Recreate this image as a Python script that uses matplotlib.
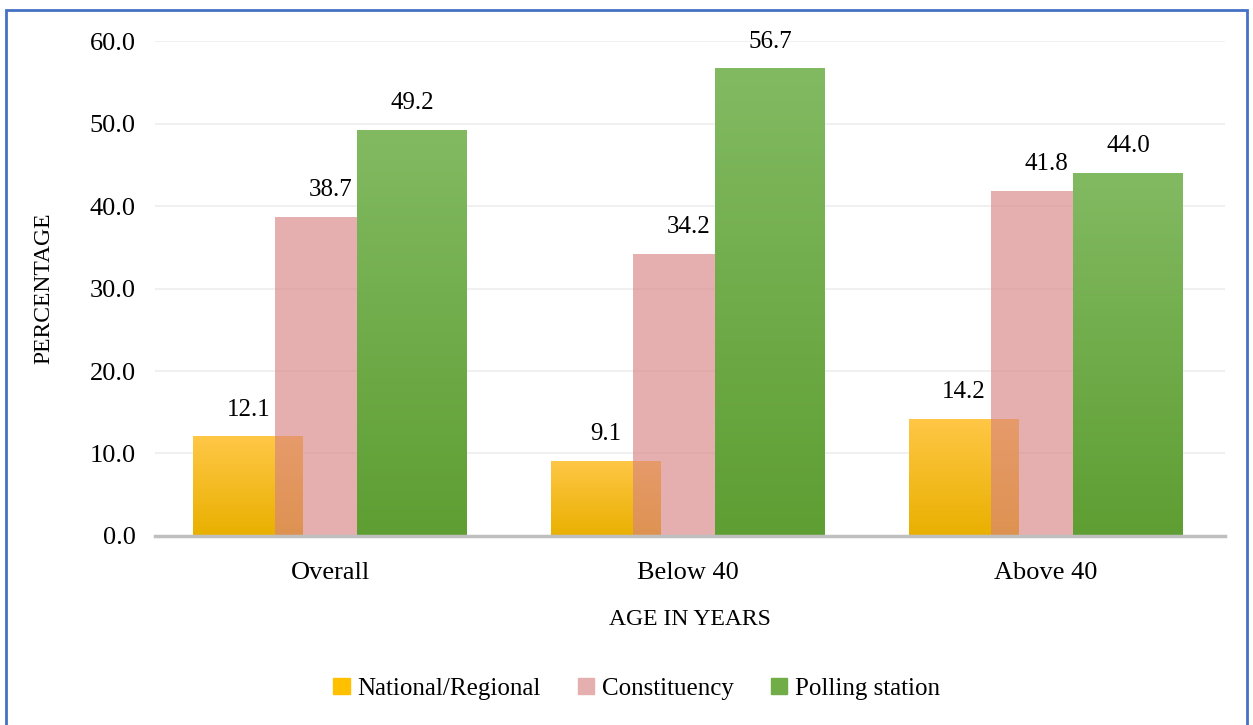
import numpy as np
import matplotlib.pyplot as plt
from matplotlib.colors import LinearSegmentedColormap
from matplotlib.patches import Rectangle

plt.rcParams['font.family'] = ['Liberation Serif', 'DejaVu Serif']

# données
groupes = ["Overall", "Below 40", "Above 40"]
national = [12.1, 9.1, 14.2]
constituency = [38.7, 34.2, 41.8]
polling = [49.2, 56.7, 44.0]
series_noms = ["National/Regional", "Constituency", "Polling station"]
yticks = [0, 10, 20, 30, 40, 50, 60]

fig = plt.figure(figsize=(12.53, 7.25), dpi=100)
ax = fig.add_axes([0.1237, 0.2607, 0.854, 0.6827])

x = np.arange(len(groupes))
largeur = 0.307
decal = 0.229

b1 = ax.bar(x - decal, national, largeur, color="#FFC000", zorder=2)
b2 = ax.bar(x, constituency, largeur, color=(216/255, 129/255, 129/255), alpha=0.63, zorder=3)
b3 = ax.bar(x + decal, polling, largeur, color="#70AD47", zorder=4)

# dégradés façon Excel
def degrade(barres, haut, bas, z):
    cmap = LinearSegmentedColormap.from_list("g", [bas, haut])
    grad = np.linspace(0, 1, 256).reshape(-1, 1)
    for b in barres:
        x0, y0 = b.get_x(), b.get_y()
        w, h = b.get_width(), b.get_height()
        im = ax.imshow(grad, cmap=cmap, aspect="auto", origin="lower",
                       extent=[x0, x0 + w, y0, y0 + h], zorder=z)
        im.set_clip_path(b)

degrade(b1, "#FFC746", "#E9B000", 2.1)
degrade(b3, "#82BA62", "#5E9E32", 4.1)

for barres, vals in [(b1, national), (b2, constituency), (b3, polling)]:
    for b, v in zip(barres, vals):
        ax.text(b.get_x() + b.get_width() / 2, v + 1.9, f"{v:.1f}",
                ha="center", va="bottom", fontsize=18, zorder=6)

ax.set_xlim(-0.49, 2.50)
ax.set_ylim(0, 60)
ax.set_yticks(yticks)
ax.set_yticklabels([f"{t:.1f}" for t in yticks], fontsize=19)
ax.set_xticks(x)
ax.set_xticklabels(groupes, fontsize=19)
ax.tick_params(axis="y", length=0, pad=14)
ax.tick_params(axis="x", length=0, pad=19)
ax.yaxis.grid(True, color="#EDEDED", lw=1.2, zorder=0)
ax.set_axisbelow(True)
for s in ["top", "right", "left"]:
    ax.spines[s].set_visible(False)
ax.spines["bottom"].set_color("#BFBFBF")
ax.spines["bottom"].set_linewidth(2.5)
ax.spines["bottom"].set_zorder(5)

ax.set_ylabel("PERCENTAGE", fontsize=17, labelpad=25)
ax.set_xlabel("AGE IN YEARS", fontsize=17, labelpad=18)

poignees = [Rectangle((0, 0), 1, 1, color="#FFC000"),
            Rectangle((0, 0), 1, 1, color="#E6AFAF"),
            Rectangle((0, 0), 1, 1, color="#70AD47")]
fig.legend(poignees, series_noms, loc="center", bbox_to_anchor=(0.508, 0.05),
           ncol=3, frameon=False, fontsize=18, handlelength=0.65, handleheight=0.65,
           handletextpad=0.3, columnspacing=1.5)

# cadre bleu
fig.patches.append(Rectangle((0.005, -0.02), 0.99, 1 - 10/725 + 0.02,
                             transform=fig.transFigure, fill=False,
                             edgecolor="#4472C4", lw=2))

fig.savefig("out.png", dpi=100)
